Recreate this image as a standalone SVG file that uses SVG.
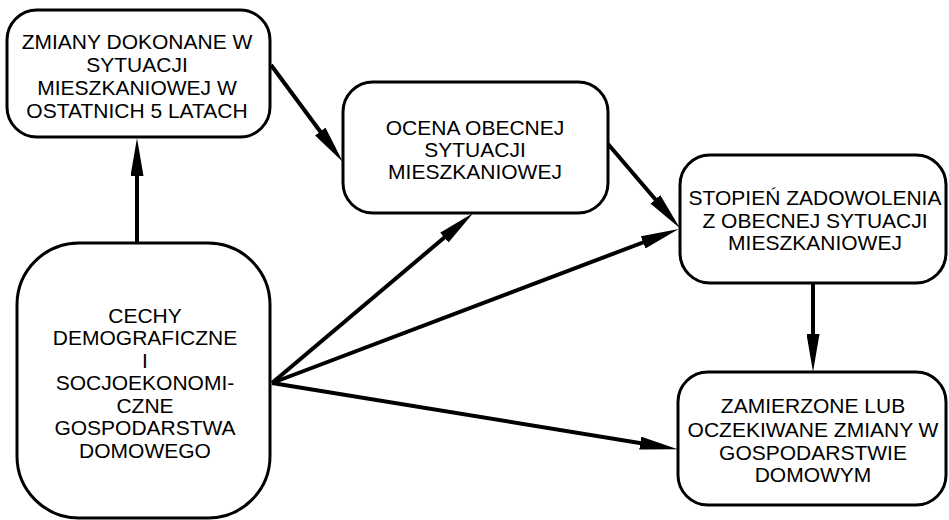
<svg xmlns="http://www.w3.org/2000/svg" width="949" height="520" viewBox="0 0 949 520">
<defs>
<style>
.box{fill:#fff;stroke:#000;stroke-width:3}
.t{font-family:"Liberation Sans",Arial,sans-serif;font-size:21px;fill:#000;text-anchor:middle}
.c{fill:none;stroke:#000;stroke-width:4}
</style>
<marker id="ah" markerUnits="userSpaceOnUse" viewBox="0 0 38 13" markerWidth="38" markerHeight="13" refX="18" refY="6.5" orient="auto">
<path d="M0,0 L38,6.5 L0,13 Z" fill="#000"/>
</marker>
</defs>
<rect width="949" height="520" fill="#fff"/>
<g id="connectors">
<line class="c" x1="137" y1="243" x2="137" y2="158" marker-end="url(#ah)"/>
<line class="c" x1="271" y1="65" x2="331" y2="146" marker-end="url(#ah)"/>
<line class="c" x1="608" y1="144" x2="667" y2="213" marker-end="url(#ah)"/>
<line class="c" x1="272" y1="383" x2="458" y2="226" marker-end="url(#ah)"/>
<line class="c" x1="272" y1="383" x2="660" y2="236" marker-end="url(#ah)"/>
<line class="c" x1="272" y1="383" x2="658" y2="446" marker-end="url(#ah)"/>
<line class="c" x1="813" y1="283" x2="813" y2="352" marker-end="url(#ah)"/>
</g>
<g id="n1">
<rect class="box" x="7" y="10" width="263" height="127" rx="30" ry="30"/>
<text class="t" x="137" y="49">ZMIANY DOKONANE W</text>
<text class="t" x="137" y="72">SYTUACJI</text>
<text class="t" x="137" y="95">MIESZKANIOWEJ W</text>
<text class="t" x="137" y="118">OSTATNICH 5 LATACH</text>
</g>
<g id="n2">
<rect class="box" x="343" y="82" width="265" height="131" rx="30" ry="30"/>
<text class="t" x="475" y="135">OCENA OBECNEJ</text>
<text class="t" x="475" y="157">SYTUACJI</text>
<text class="t" x="475" y="179">MIESZKANIOWEJ</text>
</g>
<g id="n3">
<rect class="box" x="680" y="155" width="266" height="128" rx="30" ry="30"/>
<text class="t" x="815" y="205">STOPIEŃ ZADOWOLENIA</text>
<text class="t" x="815" y="228">Z OBECNEJ SYTUACJI</text>
<text class="t" x="815" y="250">MIESZKANIOWEJ</text>
</g>
<g id="n4">
<rect class="box" x="678" y="372" width="268" height="133" rx="30" ry="30"/>
<text class="t" x="813" y="413">ZAMIERZONE LUB</text>
<text class="t" x="813" y="437">OCZEKIWANE ZMIANY W</text>
<text class="t" x="813" y="460">GOSPODARSTWIE</text>
<text class="t" x="813" y="482">DOMOWYM</text>
</g>
<g id="n5">
<rect class="box" x="17" y="243" width="253" height="275" rx="62" ry="62"/>
<text class="t" x="145" y="323">CECHY</text>
<text class="t" x="145" y="345">DEMOGRAFICZNE</text>
<text class="t" x="145" y="368">I</text>
<text class="t" x="145" y="390">SOCJOEKONOMI-</text>
<text class="t" x="145" y="413">CZNE</text>
<text class="t" x="145" y="435">GOSPODARSTWA</text>
<text class="t" x="145" y="458">DOMOWEGO</text>
</g>
</svg>
